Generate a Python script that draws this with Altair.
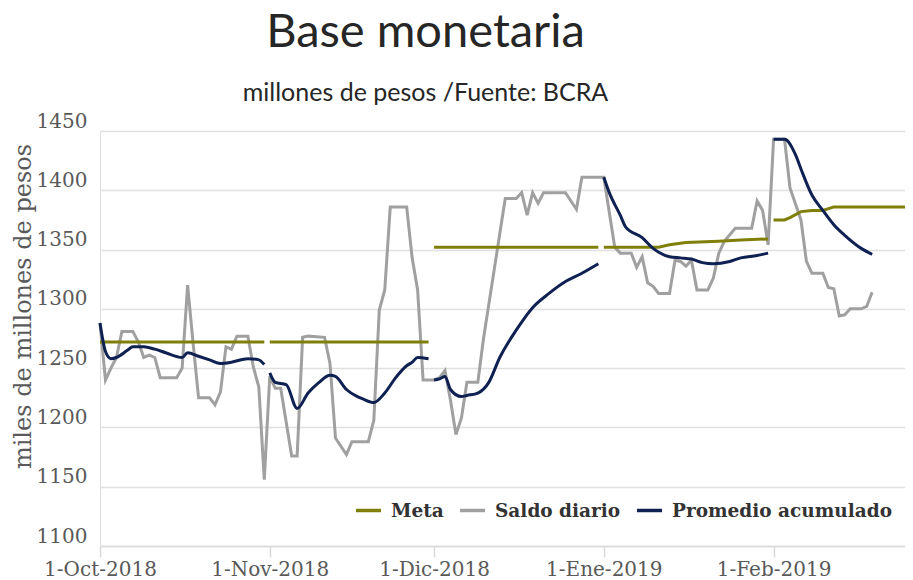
import altair as alt
import pandas as pd

MESES = ['Ene', 'Feb', 'Mar', 'Abr', 'May', 'Jun', 'Jul', 'Ago', 'Sep', 'Oct', 'Nov', 'Dic']
SERIES = ['Meta', 'Saldo diario', 'Promedio acumulado']
COLORES = ['#7f7f0a', '#a0a0a0', '#0f2152']

# Saldo diario
SALDO_FECHAS = [
    '2018-10-01', '2018-10-02', '2018-10-03', '2018-10-04', '2018-10-05', '2018-10-07',
    '2018-10-08', '2018-10-09', '2018-10-10', '2018-10-11', '2018-10-12', '2018-10-15',
    '2018-10-16', '2018-10-17', '2018-10-18', '2018-10-19', '2018-10-21', '2018-10-22',
    '2018-10-23', '2018-10-24', '2018-10-25', '2018-10-26', '2018-10-28', '2018-10-29',
    '2018-10-30', '2018-10-31', '2018-11-01', '2018-11-02', '2018-11-03', '2018-11-05',
    '2018-11-06', '2018-11-07', '2018-11-08', '2018-11-11', '2018-11-12', '2018-11-13',
    '2018-11-15', '2018-11-16', '2018-11-19', '2018-11-20', '2018-11-21', '2018-11-22',
    '2018-11-23', '2018-11-26', '2018-11-27', '2018-11-28', '2018-11-29', '2018-12-01',
    '2018-12-02', '2018-12-03', '2018-12-04', '2018-12-05', '2018-12-06', '2018-12-07',
    '2018-12-09', '2018-12-10', '2018-12-14', '2018-12-16', '2018-12-17', '2018-12-18',
    '2018-12-19', '2018-12-20', '2018-12-21', '2018-12-25', '2018-12-27', '2018-12-28',
    '2019-01-01', '2019-01-03', '2019-01-04', '2019-01-06', '2019-01-07', '2019-01-08',
    '2019-01-09', '2019-01-10', '2019-01-11', '2019-01-13', '2019-01-14', '2019-01-15',
    '2019-01-16', '2019-01-17', '2019-01-18', '2019-01-20', '2019-01-21', '2019-01-22',
    '2019-01-23', '2019-01-25', '2019-01-28', '2019-01-29', '2019-01-30', '2019-01-31',
    '2019-02-01', '2019-02-03', '2019-02-04', '2019-02-06', '2019-02-07', '2019-02-08',
    '2019-02-10', '2019-02-11', '2019-02-12', '2019-02-13', '2019-02-14', '2019-02-15',
    '2019-02-17', '2019-02-18', '2019-02-19',
]
SALDO_VALORES = [
    1288, 1240, 1250, 1259, 1281, 1281,
    1272, 1259, 1261, 1259, 1242, 1242,
    1250, 1320, 1271, 1225, 1225, 1219,
    1230, 1268, 1266, 1277, 1277, 1251,
    1234, 1156, 1243, 1233, 1233, 1176,
    1176, 1276, 1277, 1276, 1254, 1191,
    1177, 1188, 1188, 1206, 1299, 1316,
    1386, 1386, 1343, 1316, 1240, 1240,
    1242, 1248, 1223, 1194, 1208, 1238,
    1238, 1274, 1393, 1393, 1398, 1379,
    1398, 1389, 1398, 1398, 1384, 1411,
    1411, 1352, 1347, 1347, 1335, 1344,
    1322, 1319, 1313, 1313, 1341, 1340,
    1336, 1341, 1316, 1316, 1326, 1347,
    1357, 1368, 1368, 1391, 1383, 1354,
    1443, 1443, 1402, 1375, 1340, 1330,
    1330, 1318, 1317, 1294, 1295, 1300,
    1300, 1302, 1314,
]

# Promedio acumulado (se reinicia cada mes)
PROM_FECHAS = [
    '2018-10-01', '2018-10-02', '2018-10-03', '2018-10-04', '2018-10-06', '2018-10-07',
    '2018-10-09', '2018-10-11', '2018-10-13', '2018-10-16', '2018-10-17', '2018-10-19',
    '2018-10-21', '2018-10-23', '2018-10-25', '2018-10-28', '2018-10-30', '2018-10-31',
    '2018-11-01', '2018-11-02', '2018-11-04', '2018-11-06', '2018-11-08', '2018-11-10',
    '2018-11-12', '2018-11-13', '2018-11-15', '2018-11-17', '2018-11-18', '2018-11-20',
    '2018-11-22', '2018-11-24', '2018-11-26', '2018-11-27', '2018-11-28', '2018-11-30',
    '2018-12-01', '2018-12-02', '2018-12-03', '2018-12-04', '2018-12-06', '2018-12-07',
    '2018-12-09', '2018-12-11', '2018-12-13', '2018-12-16', '2018-12-19', '2018-12-22',
    '2018-12-25', '2018-12-28', '2018-12-31',
    '2019-01-01', '2019-01-02', '2019-01-04', '2019-01-05', '2019-01-08', '2019-01-10',
    '2019-01-13', '2019-01-15', '2019-01-17', '2019-01-19', '2019-01-21', '2019-01-24',
    '2019-01-26', '2019-01-29', '2019-01-31',
    '2019-02-01', '2019-02-03', '2019-02-05', '2019-02-06', '2019-02-08', '2019-02-10',
    '2019-02-12', '2019-02-14', '2019-02-17', '2019-02-19',
]
PROM_VALORES = [
    1288, 1264, 1258, 1259, 1265, 1268,
    1268, 1266, 1263, 1259, 1263, 1260,
    1257, 1254, 1255, 1258, 1257, 1253,
    1246, 1238, 1236, 1216, 1229, 1238,
    1244, 1243, 1232, 1226, 1224, 1221,
    1229, 1242, 1252, 1255, 1259, 1258,
    1240, 1241, 1243, 1232, 1226, 1227,
    1229, 1238, 1259, 1282, 1301, 1313,
    1323, 1330, 1338,
    1411, 1398, 1379, 1369, 1360, 1351,
    1344, 1343, 1342, 1339, 1338, 1340,
    1343, 1345, 1347,
    1443, 1443, 1430, 1418, 1396, 1383,
    1371, 1362, 1351, 1346,
]

# Meta
META_FECHAS = [
    '2018-10-01', '2018-10-31',
    '2018-11-01', '2018-11-30',
    '2018-12-01', '2018-12-31',
    '2019-01-01', '2019-01-11', '2019-01-13', '2019-01-16', '2019-01-22', '2019-01-26', '2019-01-31',
    '2019-02-01', '2019-02-03', '2019-02-04', '2019-02-06', '2019-02-08', '2019-02-10',
    '2019-02-12', '2019-02-25',
]
META_VALORES = [
    1272, 1272,
    1272, 1272,
    1352, 1352,
    1352, 1352, 1354, 1356, 1357, 1358, 1359,
    1375, 1375, 1377, 1382, 1383, 1383,
    1386, 1386,
]

Y_TICKS = [1100, 1150, 1200, 1250, 1300, 1350, 1400, 1450]
X_TICKS = ['2018-10-01', '2018-11-01', '2018-12-01', '2019-01-01', '2019-02-01']


def frame(fechas, valores, serie):
    return pd.DataFrame({
        'fecha': fechas,
        'valor': valores,
        'serie': serie,
        'tramo': [f[:7] for f in fechas],
    })


saldo = frame(SALDO_FECHAS, SALDO_VALORES, 'Saldo diario')
prom = frame(PROM_FECHAS, PROM_VALORES, 'Promedio acumulado')
meta = frame(META_FECHAS, META_VALORES, 'Meta')


def dt(s):
    y, m, d = (int(v) for v in s.split('-'))
    return alt.DateTime(year=y, month=m, date=d, utc=True)


label_expr = (
    "utcdate(datum.value) + '-' + " + str(MESES) + "[utcmonth(datum.value)] + '-' + utcyear(datum.value)"
)

x_enc = alt.X(
    'fecha:T',
    scale=alt.Scale(type='utc', domain=[dt('2018-10-01'), dt('2019-02-25')]),
    axis=alt.Axis(
        values=[dt(v) for v in X_TICKS],
        labelExpr=label_expr,
        title=None,
        grid=False,
        tickSize=11,
        tickColor='#d9d9d9',
        tickWidth=1.5,
        domainColor='#d9d9d9',
        domainWidth=1.5,
        labelFont='DejaVu Serif',
        labelFontSize=20,
        labelColor='#595959',
        labelPadding=2,
        labelFlush=False,
        labelOverlap=False,
    ),
)

y_enc = alt.Y(
    'valor:Q',
    scale=alt.Scale(domain=[1100, 1450], nice=False, zero=False),
    axis=alt.Axis(
        values=Y_TICKS,
        format='d',
        title='miles de millones de pesos',
        grid=True,
        gridColor='#e0e0e0',
        gridWidth=1.5,
        domain=False,
        ticks=False,
        labelFont='DejaVu Serif',
        labelFontSize=20,
        labelColor='#595959',
        labelOffset=-10,
        labelPadding=13,
        titleFont='DejaVu Serif',
        titleFontSize=24,
        titleFontWeight='normal',
        titleColor='#595959',
        titleAngle=270,
        titleAlign='center',
        titleBaseline='alphabetic',
        titleX=-70,
        titleY=175,
    ),
)

color_enc = alt.Color(
    'serie:N',
    scale=alt.Scale(domain=SERIES, range=COLORES),
    legend=alt.Legend(
        orient='none',
        legendX=254,
        legendY=365,
        direction='horizontal',
        title=None,
        symbolType='stroke',
        symbolStrokeWidth=3.5,
        symbolSize=625,
        labelFont='DejaVu Serif',
        labelFontSize=18.5,
        labelFontWeight='bold',
        labelColor='#333333',
        labelOffset=8,
        labelLimit=400,
        columnPadding=9,
    ),
)

l_saldo = alt.Chart(saldo).mark_line(strokeWidth=3).encode(
    x=x_enc, y=y_enc, color=color_enc
)
l_meta = alt.Chart(meta).mark_line(strokeWidth=3).encode(
    x=x_enc, y=y_enc, color=color_enc, detail='tramo:N'
)
l_prom = alt.Chart(prom).mark_line(strokeWidth=3, interpolate='monotone').encode(
    x=x_enc, y=y_enc, color=color_enc, detail='tramo:N'
)

chart = alt.layer(l_saldo, l_meta, l_prom).properties(
    width=805,
    height=415,
    autosize=alt.AutoSizeParams(type='none'),
    padding={'left': 92, 'top': 123, 'right': 0, 'bottom': 34},
    title=alt.TitleParams(
        text='Base monetaria',
        subtitle='millones de pesos /Fuente: BCRA',
        font='Lato',
        fontSize=47,
        fontWeight='normal',
        color='#262626',
        subtitleFont='Lato',
        subtitleFontSize=25,
        subtitleColor='#262626',
        subtitlePadding=24,
        anchor='middle',
        dx=-77,
        offset=4,
    ),
).configure_view(stroke=None).configure(background='white')

chart.save('out.html', embed_options={'renderer': 'svg', 'actions': False})
